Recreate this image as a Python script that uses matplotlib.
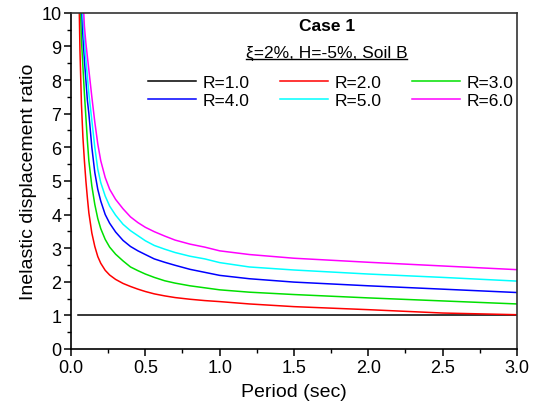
import numpy as np
import matplotlib
matplotlib.use("Agg")
import matplotlib.pyplot as plt
from matplotlib.ticker import MultipleLocator, FormatStrFormatter

plt.rcParams['font.family'] = ['Liberation Sans', 'DejaVu Sans']

# period grid (sec) and inelastic displacement ratios for each R
period = [0.05, 0.06, 0.07, 0.08, 0.09, 0.10, 0.11, 0.12, 0.14, 0.16,
          0.18, 0.20, 0.23, 0.26, 0.30, 0.35, 0.40, 0.45, 0.50, 0.56,
          0.63, 0.70, 0.80, 0.90, 1.00, 1.20, 1.50, 2.00, 2.50, 3.00]

r1 = [1.0] * len(period)
r2 = [11.5, 8.9, 7.3, 6.3, 5.6, 5.0, 4.5, 4.05, 3.45, 3.05,
      2.75, 2.55, 2.34, 2.20, 2.07, 1.95, 1.86, 1.78, 1.71, 1.64,
      1.58, 1.53, 1.48, 1.44, 1.41, 1.34, 1.26, 1.17, 1.07, 1.02]
r3 = [13.5, 10.6, 9.2, 8.4, 7.6, 6.9, 6.2, 5.6, 4.85, 4.30,
      3.88, 3.58, 3.26, 3.03, 2.82, 2.62, 2.44, 2.33, 2.23, 2.13,
      2.03, 1.96, 1.88, 1.82, 1.76, 1.69, 1.62, 1.52, 1.43, 1.34]
r4 = [16.0, 12.5, 10.3, 9.3, 8.6, 8.0, 7.4, 7.0, 6.0, 5.25,
      4.75, 4.40, 4.00, 3.74, 3.48, 3.23, 3.05, 2.92, 2.81, 2.68,
      2.58, 2.49, 2.37, 2.28, 2.19, 2.09, 1.99, 1.88, 1.78, 1.68]
r5 = [18.0, 14.5, 11.5, 9.9, 9.2, 8.6, 8.1, 7.6, 6.8, 6.0,
      5.35, 4.95, 4.55, 4.25, 3.98, 3.71, 3.52, 3.37, 3.22, 3.08,
      2.97, 2.87, 2.76, 2.68, 2.57, 2.44, 2.35, 2.23, 2.13, 2.02]
r6 = [20.0, 16.0, 13.0, 10.5, 9.6, 9.1, 8.7, 8.3, 7.5, 6.75,
      6.1, 5.6, 5.1, 4.75, 4.45, 4.17, 3.93, 3.76, 3.62, 3.49,
      3.36, 3.24, 3.12, 3.03, 2.92, 2.81, 2.70, 2.58, 2.47, 2.36]

labels = ['R=1.0', 'R=2.0', 'R=3.0', 'R=4.0', 'R=5.0', 'R=6.0']
colors = ['black', '#ff0000', '#00e000', '#0000ff', '#00ffff', '#ff00ff']

fig = plt.figure(figsize=(5.34, 4.14), dpi=100)
ax = fig.add_axes([0.133, 0.1546, 0.835, 0.812])

lines = []
for vals, lab, c in zip([r1, r2, r3, r4, r5, r6], labels, colors):
    ln, = ax.plot(period, vals, color=c, lw=1.1, label=lab)
    lines.append(ln)

ax.set_xlim(0, 3)
ax.set_ylim(0, 10)
ax.xaxis.set_major_locator(MultipleLocator(0.5))
ax.xaxis.set_minor_locator(MultipleLocator(0.25))
ax.yaxis.set_major_locator(MultipleLocator(1))
ax.yaxis.set_minor_locator(MultipleLocator(0.5))
ax.xaxis.set_major_formatter(FormatStrFormatter('%.1f'))
ax.tick_params(which='major', direction='out', length=5, width=1.1,
               labelsize=13, pad=2)
ax.tick_params(which='minor', direction='out', length=3, width=1.0)
ax.tick_params(top=False, right=False)
for s in ax.spines.values():
    s.set_linewidth(1.2)
ax.spines['top'].set_color('#333333')
ax.spines['right'].set_color('#333333')

ax.set_xlabel('Period (sec)', fontsize=14, labelpad=5)
ax.set_ylabel('Inelastic displacement ratio', fontsize=14, labelpad=3)

ax.text(0.575, 0.961, 'Case 1', transform=ax.transAxes, ha='center',
        va='center', fontsize=12.5, fontweight='bold')
sub = ax.text(0.573, 0.882, 'ξ=2%, H=-5%, Soil B', transform=ax.transAxes,
              ha='center', va='center', fontsize=12.5)

# legend filled row by row: three entries per row
order = [0, 3, 1, 4, 2, 5]
leg = ax.legend([lines[i] for i in order], [labels[i] for i in order],
                ncol=3, loc='upper right', bbox_to_anchor=(1.0, 0.826),
                frameon=False, fontsize=12.5, handlelength=2.8,
                handletextpad=0.35, columnspacing=1.75, labelspacing=0.15,
                borderpad=0.1, borderaxespad=0.1)

# underline the subtitle
fig.canvas.draw()
bb = sub.get_window_extent().transformed(ax.transAxes.inverted())
ax.plot([bb.x0, bb.x1], [bb.y0 + 0.004, bb.y0 + 0.004], color='black',
        lw=1.0, transform=ax.transAxes, clip_on=False)

fig.savefig('out.png', dpi=100)
